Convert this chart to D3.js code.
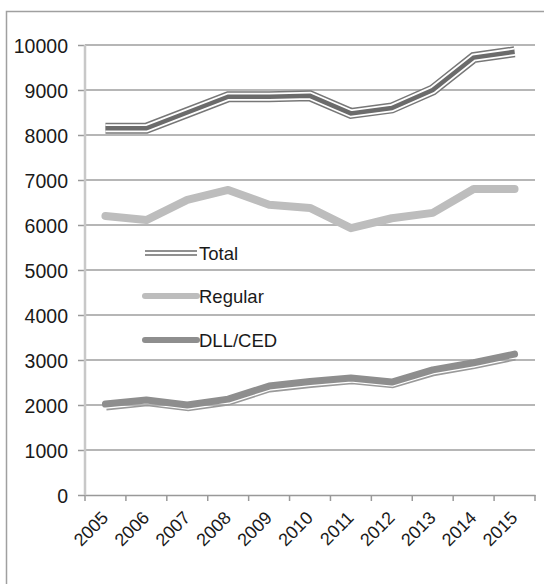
<!DOCTYPE html>
<html lang="en">
<head>
    <meta charset="UTF-8">
    <title>Total / Regular / DLL-CED</title>
    <script src="https://d3js.org/d3.v7.min.js"></script>
    <style>
        body { margin: 0; background: #fff; }
        svg text { font-family: "Liberation Sans", Arial, sans-serif; fill: #1a1a1a; }
    </style>
</head>
<body>
<svg id="canvas" width="544" height="584"></svg>
<script>
    // data
    const years = ["2005","2006","2007","2008","2009","2010","2011","2012","2013","2014","2015"];
    const total = [8150, 8150, 8500, 8850, 8850, 8870, 8480, 8600, 9000, 9720, 9850];
    const regular = [6200, 6110, 6560, 6780, 6450, 6380, 5930, 6150, 6270, 6800, 6800];
    const dll = [2020, 2110, 2000, 2130, 2420, 2520, 2600, 2510, 2780, 2940, 3130];
    const yTicks = [0, 1000, 2000, 3000, 4000, 5000, 6000, 7000, 8000, 9000, 10000];

    const svg = d3.select('#canvas');
    const plot = {left: 85, right: 535, top: 45, bottom: 495};

    // outer frame
    svg.append('rect')
        .attr('x', 6.5).attr('y', 11.5)
        .attr('width', 600).attr('height', 620)
        .attr('fill', 'none').attr('stroke', '#a0a0a0').attr('stroke-width', 1.5);

    const x = d3.scaleBand().domain(years).range([plot.left, plot.right]);
    const y = d3.scaleLinear().domain([0, 10000]).range([plot.bottom, plot.top]);
    const cx = d => x(d) + x.bandwidth() / 2;

    // gridlines + y ticks
    const yAxis = svg.append('g')
        .attr('transform', `translate(${plot.left},0)`)
        .call(d3.axisLeft(y).tickValues(yTicks).tickSize(7).tickPadding(10).tickFormat(d3.format('d')));
    yAxis.select('.domain').remove();
    yAxis.selectAll('.tick line').attr('stroke', '#999').attr('stroke-width', 1.5);
    yAxis.selectAll('.tick text').attr('font-size', 19.5).attr('dy', '0.36em')
        .style('font-family', '"Liberation Sans", Arial, sans-serif');
    svg.append('g')
        .selectAll('line')
        .data(yTicks.filter(d => d > 0))
        .join('line')
        .attr('x1', plot.left).attr('x2', plot.right)
        .attr('y1', d => y(d)).attr('y2', d => y(d))
        .attr('stroke', '#9e9e9e').attr('stroke-width', 1.5);

    // x axis
    const xAxis = svg.append('g')
        .attr('transform', `translate(0,${plot.bottom})`)
        .call(d3.axisBottom(x).tickSize(0));
    xAxis.select('.domain').attr('stroke', '#999').attr('stroke-width', 1.5);
    xAxis.selectAll('.tick text')
        .attr('font-size', 18)
        .style('font-family', '"Liberation Sans", Arial, sans-serif')
        .attr('text-anchor', 'end')
        .attr('dy', null).attr('y', 0)
        .attr('transform', 'translate(4,24) rotate(-45)');
    // category boundary ticks
    svg.append('g')
        .selectAll('line')
        .data(years.concat(['end']))
        .join('line')
        .attr('x1', (d, i) => plot.left + i * x.step()).attr('x2', (d, i) => plot.left + i * x.step())
        .attr('y1', plot.bottom).attr('y2', plot.bottom + 6)
        .attr('stroke', '#999').attr('stroke-width', 1.5);

    // y axis line
    svg.append('line')
        .attr('x1', plot.left).attr('x2', plot.left)
        .attr('y1', plot.top).attr('y2', plot.bottom)
        .attr('stroke', '#c8c8c8').attr('stroke-width', 2.5);

    const line = d3.line().x((d, i) => cx(years[i])).y(d => y(d));

    // DLL/CED: thin shadow line under thick line
    svg.append('path').datum(dll)
        .attr('d', line).attr('transform', 'translate(1,5.5)')
        .attr('fill', 'none').attr('stroke', '#9a9a9a').attr('stroke-width', 1.6);
    svg.append('path').datum(dll)
        .attr('d', line)
        .attr('fill', 'none').attr('stroke', '#8e8e8e').attr('stroke-width', 7)
        .attr('stroke-linecap', 'round').attr('stroke-linejoin', 'round');

    // Regular
    svg.append('path').datum(regular)
        .attr('d', line)
        .attr('fill', 'none').attr('stroke', '#bdbdbd').attr('stroke-width', 8)
        .attr('stroke-linecap', 'round').attr('stroke-linejoin', 'round');

    // Total: compound line
    svg.append('path').datum(total)
        .attr('d', line)
        .attr('fill', 'none').attr('stroke', '#777').attr('stroke-width', 11);
    svg.append('path').datum(total)
        .attr('d', line)
        .attr('fill', 'none').attr('stroke', '#fff').attr('stroke-width', 8);
    svg.append('path').datum(total)
        .attr('d', line)
        .attr('fill', 'none').attr('stroke', '#6b6b6b').attr('stroke-width', 4.5);

    // legend
    const legend = svg.append('g');
    const rows = [
        {name: 'Total', y: 253},
        {name: 'Regular', y: 296},
        {name: 'DLL/CED', y: 340}
    ];
    legend.append('line').attr('x1', 145).attr('x2', 197).attr('y1', rows[0].y - 2).attr('y2', rows[0].y - 2)
        .attr('stroke', '#6b6b6b').attr('stroke-width', 1.6);
    legend.append('line').attr('x1', 145).attr('x2', 197).attr('y1', rows[0].y + 2).attr('y2', rows[0].y + 2)
        .attr('stroke', '#6b6b6b').attr('stroke-width', 1.6);
    legend.append('line').attr('x1', 145).attr('x2', 197).attr('y1', rows[1].y).attr('y2', rows[1].y)
        .attr('stroke', '#bdbdbd').attr('stroke-width', 6).attr('stroke-linecap', 'round');
    legend.append('line').attr('x1', 145).attr('x2', 197).attr('y1', rows[2].y).attr('y2', rows[2].y)
        .attr('stroke', '#8e8e8e').attr('stroke-width', 6).attr('stroke-linecap', 'round');
    legend.selectAll('text')
        .data(rows)
        .join('text')
        .attr('x', 199).attr('y', d => d.y + 7)
        .attr('font-size', 18.5)
        .text(d => d.name);
</script>
</body>
</html>
